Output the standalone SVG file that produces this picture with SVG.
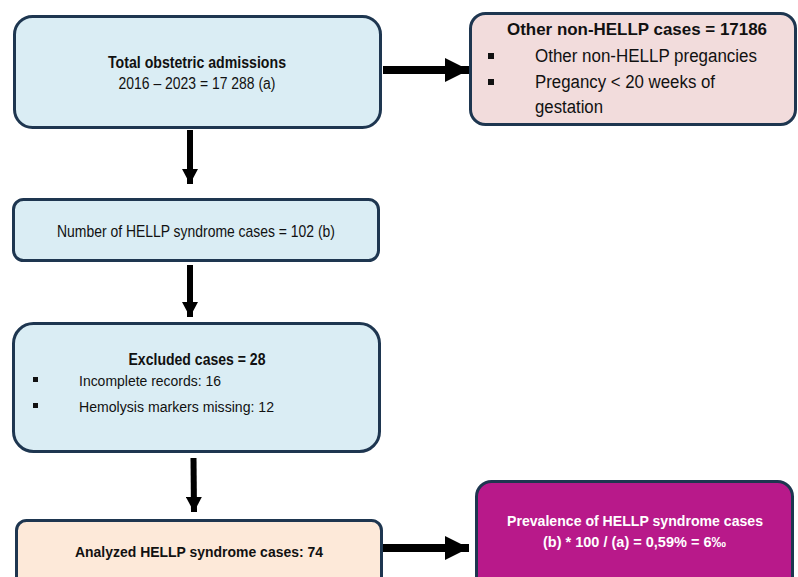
<svg xmlns="http://www.w3.org/2000/svg" width="798" height="577" viewBox="0 0 798 577">
<style>
.box{stroke:#1e3650;stroke-width:3}
.blue{fill:#daedf4}
.pink{fill:#f2dcdc}
.peach{fill:#fde9d9}
.mag{fill:#b8198a}
text{font-family:"Liberation Sans",Arial,sans-serif;fill:#111}
.b{font-weight:bold}
.w{fill:#fff}
.c{stroke:#000;fill:none}
.bul{fill:#111}
</style>
<defs>
<marker id="hbig" markerUnits="userSpaceOnUse" markerWidth="24" markerHeight="24" refX="24" refY="12" orient="auto"><path d="M0,0 L24,12 L0,24 Z" fill="#000"/></marker>
<marker id="hsm" markerUnits="userSpaceOnUse" markerWidth="15" markerHeight="16" refX="15" refY="8" orient="auto"><path d="M0,0 L15,8 L0,16 Z" fill="#000"/></marker>
</defs>
<g id="connectors">
<line class="c" x1="383" y1="70" x2="469" y2="70" stroke-width="8" marker-end="url(#hbig)"/>
<line class="c" x1="190" y1="130" x2="190" y2="184" stroke-width="6" marker-end="url(#hsm)"/>
<line class="c" x1="190" y1="265" x2="190" y2="317" stroke-width="6" marker-end="url(#hsm)"/>
<line class="c" x1="193.5" y1="458" x2="194" y2="512" stroke-width="6" marker-end="url(#hsm)"/>
<line class="c" x1="383" y1="548" x2="469" y2="548" stroke-width="8" marker-end="url(#hbig)"/>
</g>
<g id="total">
<rect class="box blue" x="14.5" y="16.5" width="366" height="111" rx="18"/>
<text class="b" x="197" y="68" font-size="16.3" text-anchor="middle" textLength="178" lengthAdjust="spacingAndGlyphs">Total obstetric admissions</text>
<text x="197" y="89" font-size="16" text-anchor="middle" textLength="157" lengthAdjust="spacingAndGlyphs">2016 – 2023 = 17 288 (a)</text>
</g>
<g id="other">
<rect class="box pink" x="470.5" y="13.5" width="325" height="111" rx="15"/>
<text class="b" x="637" y="35" font-size="16.5" text-anchor="middle" textLength="260" lengthAdjust="spacingAndGlyphs">Other non-HELLP cases = 17186</text>
<rect class="bul" x="488" y="53" width="6" height="6"/>
<text x="535" y="62" font-size="18" textLength="222" lengthAdjust="spacingAndGlyphs">Other non-HELLP pregancies</text>
<rect class="bul" x="488" y="79" width="6" height="6"/>
<text x="535" y="88" font-size="18" textLength="180" lengthAdjust="spacingAndGlyphs">Pregancy &lt; 20 weeks of</text>
<text x="535" y="113" font-size="18" textLength="68" lengthAdjust="spacingAndGlyphs">gestation</text>
</g>
<g id="hellp">
<rect class="box blue" x="13.5" y="199.5" width="365" height="61" rx="10"/>
<text x="196" y="237" font-size="17" text-anchor="middle" textLength="278" lengthAdjust="spacingAndGlyphs">Number of HELLP syndrome cases = 102 (b)</text>
</g>
<g id="excluded">
<rect class="box blue" x="13.5" y="323.5" width="366" height="128" rx="20"/>
<text class="b" x="197" y="365" font-size="16.3" text-anchor="middle" textLength="137" lengthAdjust="spacingAndGlyphs">Excluded cases = 28</text>
<rect class="bul" x="33" y="377" width="5" height="5"/>
<text x="79" y="386" font-size="15.5" textLength="142" lengthAdjust="spacingAndGlyphs">Incomplete records: 16</text>
<rect class="bul" x="33" y="403" width="5" height="5"/>
<text x="79" y="412" font-size="15.5" textLength="195" lengthAdjust="spacingAndGlyphs">Hemolysis markers missing: 12</text>
</g>
<g id="analyzed">
<rect class="box peach" x="16.5" y="520.5" width="365" height="70" rx="10"/>
<text class="b" x="199" y="557" font-size="15.2" text-anchor="middle" textLength="248" lengthAdjust="spacingAndGlyphs">Analyzed HELLP syndrome cases: 74</text>
</g>
<g id="prevalence">
<rect class="box mag" x="476.5" y="481.5" width="316" height="110" rx="15"/>
<text class="b w" x="635" y="526" font-size="15.5" text-anchor="middle" textLength="256" lengthAdjust="spacingAndGlyphs">Prevalence of HELLP syndrome cases</text>
<text class="b w" x="634.5" y="547" font-size="15.5" text-anchor="middle" textLength="183" lengthAdjust="spacingAndGlyphs">(b) * 100 / (a) = 0,59% = 6‰</text>
</g>
</svg>
